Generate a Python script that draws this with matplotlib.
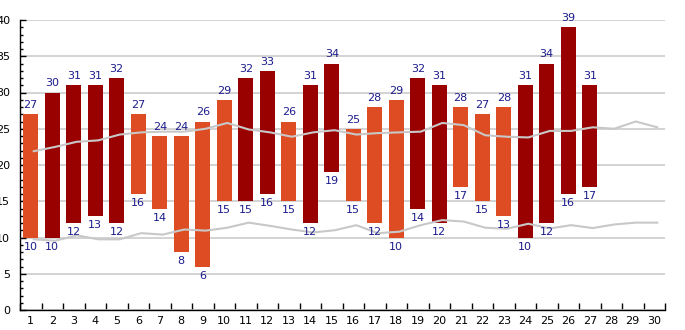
import matplotlib
matplotlib.use("Agg")
import matplotlib.pyplot as plt
import numpy as np
from matplotlib.ticker import MultipleLocator

# daily max / min temps (days 1-27)
days = np.arange(1, 28)
highs = [27, 30, 31, 31, 32, 27, 24, 24, 26, 29, 32, 33, 26, 31, 34, 25, 28, 29, 32, 31,
         28, 27, 28, 31, 34, 39, 31]
lows = [10, 10, 12, 13, 12, 16, 14, 8, 6, 15, 15, 16, 15, 12, 19, 15, 12, 10, 14, 12,
        17, 15, 13, 10, 12, 16, 17]

# long-term average max / min (days 1-30)
all_days = np.arange(1, 31)
avg_high = [21.9, 22.5, 23.2, 23.4, 24.2, 24.5, 24.6, 24.6, 25.0, 25.8, 24.9, 24.5, 23.9, 24.5, 24.8,
            24.2, 24.4, 24.5, 24.6, 25.8, 25.5, 24.1, 23.9, 23.8, 24.7, 24.7, 25.2, 25.0, 26.0, 25.2]
avg_low = [9.75, 9.55, 10.3, 9.75, 9.75, 10.6, 10.4, 11.1, 10.95, 11.35, 12.05, 11.6, 11.1, 10.7, 11.0,
           11.7, 10.6, 10.8, 11.7, 12.4, 12.2, 11.35, 11.2, 11.9, 11.25, 11.7, 11.3, 11.8, 12.05, 12.05]

ORANGE = "#dd4c22"
DARK = "#990000"
TXT = "#1c1c8c"

colors = [DARK if h >= 30 else ORANGE for h in highs]

fig = plt.figure(figsize=(6.85, 3.3), dpi=100)
ax = fig.add_axes([20 / 685, 20 / 330, 645 / 685, 290 / 330])

ax.set_axisbelow(True)
ax.yaxis.grid(True, color="#cccccc", linewidth=1.2)

heights = [h - l for h, l in zip(highs, lows)]
ax.bar(days, heights, bottom=lows, width=0.72, color=colors, zorder=2)

ax.plot(all_days + 0.14, avg_high, color="#c8c8c8", linewidth=1.5, zorder=3)
ax.plot(all_days + 0.14, avg_low, color="#c8c8c8", linewidth=1.5, zorder=3)

for d, h, l in zip(days, highs, lows):
    ax.annotate(str(h), (d, h), xytext=(0, 3), textcoords="offset points",
                ha="center", va="bottom", fontsize=8, color=TXT, zorder=4)
    ax.annotate(str(l), (d, l), xytext=(0, -3), textcoords="offset points",
                ha="center", va="top", fontsize=8, color=TXT, zorder=4)

ax.set_xlim(0.5, 30.5)
ax.set_ylim(0, 40)

# x: ticks on the day boundaries, labels in the middle
ax.set_xticks(np.arange(0.5, 31, 1))
ax.set_xticklabels([])
ax.set_xticks(all_days, minor=True)
ax.set_xticklabels([str(d) for d in all_days], minor=True, fontsize=8)
ax.tick_params(axis="x", which="major", direction="in", length=5, width=1)
ax.tick_params(axis="x", which="minor", length=0, pad=4)

ax.yaxis.set_major_locator(MultipleLocator(5))
ax.yaxis.set_minor_locator(MultipleLocator(1))
ax.tick_params(axis="y", which="major", direction="in", length=4, width=1, labelsize=8, pad=7)
ax.tick_params(axis="y", which="minor", direction="in", length=2.5, width=1)

for s in ["top", "right"]:
    ax.spines[s].set_visible(False)
ax.spines["left"].set_linewidth(1)
ax.spines["bottom"].set_linewidth(1)

fig.savefig("out.png", dpi=100)
